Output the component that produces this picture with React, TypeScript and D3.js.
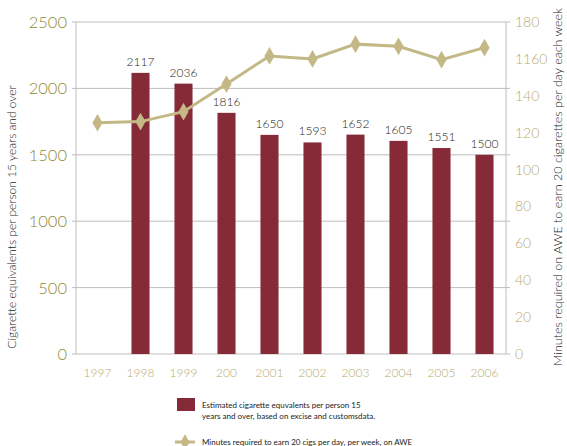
import React from "react";
import * as d3 from "d3";

const categories = ["1997", "1998", "1999", "200", "2001", "2002", "2003", "2004", "2005", "2006"];
const barValues: (number | null)[] = [null, 2117, 2036, 1816, 1650, 1593, 1652, 1605, 1551, 1500];
const lineValues = [125.4, 126, 131.4, 146.4, 161.6, 160, 168, 166.8, 159.6, 166.1];
const leftTicks = [0, 500, 1000, 1500, 2000, 2500];
const rightTicks = [0, 20, 40, 60, 80, 100, 120, 140, 160, 180];
const rightTickLabels = ["0", "20", "40", "60", "80", "100", "120", "140", "1160", "180"];

const W = 567, H = 446;
const L = 76, R = 506, T = 22, B = 354;
const BAR = "#872a37";
const LINE = "#c3b886";
const FONT = "Lato, 'Open Sans', sans-serif";

export default function App() {
  const x = d3.scaleBand<string>().domain(categories).range([L, R]).paddingInner(0.58).paddingOuter(0.29);
  const yL = d3.scaleLinear().domain([0, 2500]).range([B, T]);
  const yR = d3.scaleLinear().domain([0, 180]).range([B, T]);
  const cx = (c: string) => (x(c) as number) + x.bandwidth() / 2;
  const line = d3.line<number>().x((_, i) => cx(categories[i])).y((d) => yR(d));
  const diamond = d3.symbol().type(d3.symbolDiamond).size(90)();
  const legDiamond = d3.symbol().type(d3.symbolDiamond).size(70)();

  return (
    <svg width={W} height={H} style={{ position: "absolute", left: 0, top: 0, fontFamily: FONT, fontWeight: 300 }}>
      <rect width={W} height={H} fill="#fff" />
      {leftTicks.map((t) => (
        <g key={t}>
          <line x1={L} x2={R} y1={yL(t)} y2={yL(t)} stroke="#bdbdbd" strokeWidth={1} />
          <line x1={L - 4} x2={L} y1={yL(t)} y2={yL(t)} stroke="#bdbdbd" />
          <line x1={R} x2={R + 4} y1={yL(t)} y2={yL(t)} stroke="#bdbdbd" />
          <text x={67} y={yL(t)} dy="0.36em" textAnchor="end" fontSize={16.5} fill="#8f8a35">{t}</text>
        </g>
      ))}
      <line x1={L} x2={L} y1={T} y2={B} stroke="#bdbdbd" />
      <line x1={R} x2={R} y1={T} y2={B} stroke="#bdbdbd" />
      {rightTicks.map((t, i) => (
        <text key={t} x={515} y={yR(t)} dy="0.36em" fontSize={14} fill="#b8ab6c">{rightTickLabels[i]}</text>
      ))}
      {categories.map((c, i) => {
        const v = barValues[i];
        return (
          <g key={c}>
            {v != null && (
              <>
                <rect x={x(c)} y={yL(v)} width={x.bandwidth()} height={B - yL(v)} fill={BAR} />
                <text x={cx(c)} y={yL(v) - 7} textAnchor="middle" fontSize={12} fill="#222">{v}</text>
              </>
            )}
            <text x={cx(c)} y={377} textAnchor="middle" fontSize={12} fill="#b8ab6c">{c}</text>
          </g>
        );
      })}
      <path d={line(lineValues) || ""} fill="none" stroke={LINE} strokeWidth={3} />
      {lineValues.map((v, i) => (
        <path key={i} d={diamond || ""} transform={`translate(${cx(categories[i])},${yR(v)})`} fill={LINE} />
      ))}
      <text transform={`translate(16,217) rotate(-90)`} textAnchor="middle" fontSize={12} fill="#222">
        Cigarette equivalents per person 15 years and over
      </text>
      <text transform={`translate(562,187) rotate(-90)`} textAnchor="middle" fontSize={12.5} fill="#222">
        Minutes required on AWE to earn 20 cigarettes per day each week
      </text>
      <g fontWeight={400}>
        <rect x={177} y={398} width={18} height={13} fill={BAR} />
        <text x={202} y={408} fontSize={8} fill="#222">Estimated cigarette equvalents per person 15</text>
        <text x={202} y={419} fontSize={8} fill="#222">years and over, based on excise and customsdata.</text>
        <line x1={175} x2={195} y1={442} y2={442} stroke={LINE} strokeWidth={3} />
        <path d={legDiamond || ""} transform="translate(185,442)" fill={LINE} />
        <text x={202} y={445} fontSize={8} fill="#222">Minutes required to earn 20 cigs per day, per week, on AWE</text>
      </g>
    </svg>
  );
}
